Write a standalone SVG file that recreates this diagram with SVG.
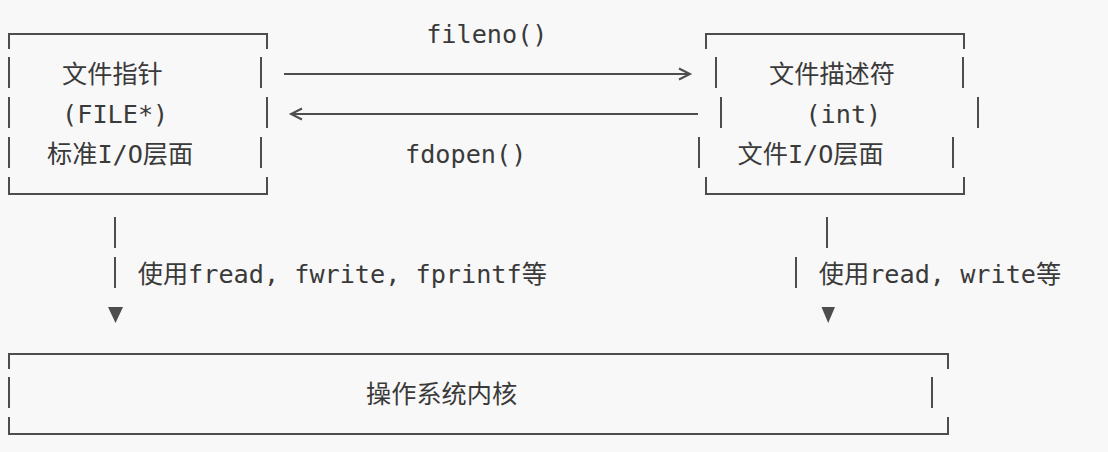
<svg xmlns="http://www.w3.org/2000/svg" width="1108" height="452" viewBox="0 0 1108 452">
  <style>
    .bg { fill: #f8f8f8; }
    .line { fill: none; stroke: #4d4d4d; stroke-width: 2; }
    .head { fill: #4d4d4d; stroke: none; }
    .t { font-family: "DejaVu Sans Mono", "Noto Sans CJK SC", monospace; font-size: 25.2px; fill: #3a3a3a; white-space: pre; }
  </style>
  <defs>
    <marker id="open-arrow" markerUnits="userSpaceOnUse" markerWidth="16" markerHeight="16" refX="12" refY="6" orient="auto-start-reverse" viewBox="0 0 16 12">
      <path d="M1 0.5 L12 6 L1 11.5" fill="none" stroke="#4d4d4d" stroke-width="2"/>
    </marker>
  </defs>
  <rect class="bg" x="0" y="0" width="1108" height="452"/>

  <g id="file-pointer">
    <path class="line" d="M9 49 V34 H267 V49 M9 57 V88 M261 57 V88 M9 97 V128 M267 97 V128 M9 137 V168 M261 137 V168 M9 177 V194 H267 V177"/>
    <text class="t" x="62" y="83">文件指针</text>
    <text class="t" x="62.1" y="123">(FILE*)</text>
    <text class="t" x="47" y="163">标准I/O层面</text>
  </g>

  <g id="file-descriptor">
    <path class="line" d="M706 49 V34 H964 V49 M716 57 V88 M963 57 V88 M721 97 V128 M978 97 V128 M699 137 V168 M953 137 V168 M706 177 V194 H964 V177"/>
    <text class="t" x="769" y="83">文件描述符</text>
    <text class="t" x="805.4" y="123">(int)</text>
    <text class="t" x="737.5" y="163">文件I/O层面</text>
  </g>

  <g id="kernel">
    <path class="line" d="M9 369 V354 H948 V369 M9 377 V408 M932 377 V408 M9 417 V434 H948 V417"/>
    <text class="t" x="366" y="403">操作系统内核</text>
  </g>

  <g id="connectors">
    <line class="line" x1="284" y1="74" x2="690" y2="74" marker-end="url(#open-arrow)"/>
    <text class="t" x="426.2" y="43">fileno()</text>
    <line class="line" x1="291" y1="114" x2="698" y2="114" marker-start="url(#open-arrow)"/>
    <text class="t" x="405" y="163">fdopen()</text>

    <path class="line" d="M115 217 V248 M115 257 V288"/>
    <polygon class="head" points="108,307 123,307 115.5,323"/>
    <text class="t" x="137.7" y="283">使用fread, fwrite, fprintf等</text>

    <path class="line" d="M827 217 V248 M796 257 V288"/>
    <polygon class="head" points="821.5,307 835,307 828.2,323"/>
    <text class="t" x="818.8" y="283">使用read, write等</text>
  </g>
</svg>
